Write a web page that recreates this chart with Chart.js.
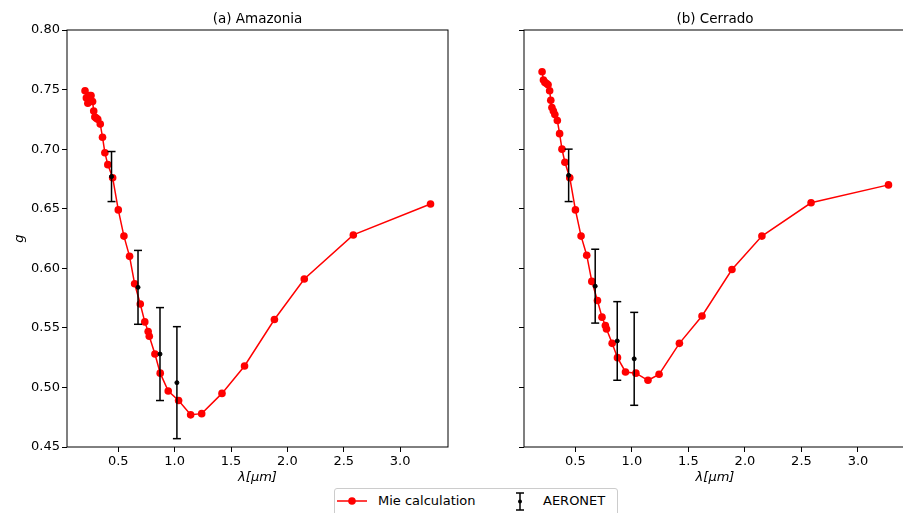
<!DOCTYPE html>
<html>
<head>
<meta charset="utf-8">
<script src="https://cdn.jsdelivr.net/npm/chart.js@4.4.1/dist/chart.umd.min.js"></script>
<style>
  html, body { margin: 0; padding: 0; background: #fff; overflow: hidden; width: 903px; height: 513px; }
  canvas { position: absolute; top: 0; }
  #left { left: 0; }
  #right { left: 460px; }
  #legend { position: absolute; left: 334px; top: 488px; width: 282px; height: 32px; border: 1px solid #ccc;
            border-radius: 3px; background: #fff; font-family: 'DejaVu Sans', sans-serif; font-size: 13px; color: #000; }
  #legend span, #legend svg { position: absolute; }
</style>
</head>
<body>
<canvas id="left" width="456" height="492"></canvas>
<canvas id="right" width="452" height="492"></canvas>
<div id="legend">
  <svg width="34" height="10" style="left:2px; top:7px"><line x1="0" y1="5" x2="30" y2="5" stroke="#ff0000" stroke-width="1.5"/><circle cx="15" cy="5" r="3.8" fill="#ff0000"/></svg>
  <span style="left:43px; top:4px">Mie calculation</span>
  <svg width="12" height="22" style="left:179px; top:2px"><line x1="6" y1="2" x2="6" y2="19" stroke="#000" stroke-width="1.5"/><line x1="2" y1="2" x2="10" y2="2" stroke="#000" stroke-width="1.5"/><line x1="2" y1="19" x2="10" y2="19" stroke="#000" stroke-width="1.5"/><circle cx="6" cy="10.5" r="2" fill="#000"/></svg>
  <span style="left:208px; top:4px">AERONET</span>
</div>
<script>
const FONT = "'DejaVu Sans', sans-serif";

// wavelengths of the Mie calculation (um)
const wavelengths = [0.205, 0.217, 0.23, 0.245, 0.258, 0.272, 0.282, 0.292, 0.305, 0.318, 0.34, 0.36, 0.381, 0.407,
  0.45, 0.50, 0.55, 0.60, 0.645, 0.695, 0.735, 0.765, 0.775, 0.825, 0.872, 0.943, 1.035, 1.142, 1.24,
  1.42, 1.62, 1.885, 2.15, 2.585, 3.27];

// asymmetry parameter g
const gAmazonia = [0.749, 0.743, 0.7385, 0.745, 0.745, 0.740, 0.732, 0.727, 0.726, 0.725, 0.721, 0.710, 0.697, 0.687,
  0.676, 0.649, 0.627, 0.610, 0.587, 0.570, 0.555, 0.547, 0.543, 0.528, 0.512, 0.497, 0.489, 0.477, 0.478,
  0.495, 0.518, 0.557, 0.591, 0.628, 0.654];
const gCerrado = [0.765, 0.758, 0.756, 0.755, 0.754, 0.749, 0.741, 0.735, 0.732, 0.729, 0.724, 0.713, 0.700, 0.689,
  0.676, 0.649, 0.627, 0.611, 0.589, 0.573, 0.559, 0.552, 0.549, 0.537, 0.525, 0.513, 0.512, 0.506, 0.511,
  0.537, 0.560, 0.599, 0.627, 0.655, 0.670];

// AERONET
const aeronetWavelengths = [0.44, 0.675, 0.87, 1.02];
const aeronetAmazonia = [0.677, 0.584, 0.528, 0.504];
const aeronetAmazoniaErr = [0.021, 0.031, 0.039, 0.047];
const aeronetCerrado = [0.678, 0.585, 0.539, 0.524];
const aeronetCerradoErr = [0.022, 0.031, 0.033, 0.039];

const frame = {
  id: 'frame',
  afterDatasetsDraw(chart) {
    const {ctx, chartArea: a} = chart;
    ctx.save();
    ctx.strokeStyle = '#000';
    ctx.lineWidth = 1;
    ctx.strokeRect(a.left, a.top, a.right - a.left, a.bottom - a.top);
    ctx.restore();
  }
};

function makeChart(id, title, g, aer, err, first) {
  const mie = wavelengths.map((w, i) => ({x: w, y: g[i]}));
  const centers = aeronetWavelengths.map((w, i) => ({x: w, y: aer[i]}));
  const bars = [];
  aeronetWavelengths.forEach((w, i) => {
    bars.push({x: w, y: aer[i] - err[i]});
    bars.push({x: w, y: aer[i] + err[i]});
    bars.push({x: w, y: null});
  });

  return new Chart(document.getElementById(id), {
    type: 'scatter',
    data: {
      datasets: [
        { label: 'AERONET', data: bars, showLine: true, spanGaps: false, borderColor: '#000', borderWidth: 1.5,
          pointStyle: 'line', pointRadius: 4, pointBorderWidth: 1.5, pointBorderColor: '#000', order: 0 },
        { label: 'AERONET', data: centers, pointRadius: 2, backgroundColor: '#000', borderColor: '#000', order: 1 },
        { label: 'Mie calculation', data: mie, showLine: true, borderColor: '#ff0000', backgroundColor: '#ff0000',
          borderWidth: 1.5, pointRadius: 3.8, pointBorderWidth: 0, order: 2 }
      ]
    },
    options: {
      responsive: false,
      animation: false,
      layout: { padding: { left: 0, right: first ? 8 : 6, top: 0, bottom: 0 } },
      plugins: {
        legend: { display: false },
        tooltip: { enabled: false }
      },
      scales: {
        x: {
          type: 'linear', min: 0.045, max: 3.425,
          border: { display: false },
          grid: { drawOnChartArea: false, tickLength: 5, color: '#000' },
          ticks: { stepSize: 0.5, includeBounds: false, color: '#000', padding: 2, maxRotation: 0,
                   font: { family: FONT, size: 13 }, callback: v => v.toFixed(1) },
          title: { display: true, text: 'λ[μm]', color: '#000', font: { family: FONT, size: 13, style: 'italic' },
                   padding: { top: 0, bottom: 7 } },
          afterFit: s => { s.height = 45; }
        },
        // top axis only carries the panel title, centred over the plot area
        top: {
          type: 'linear', axis: 'x', position: 'top', min: 0.045, max: 3.425,
          border: { display: false },
          grid: { display: false, drawTicks: false },
          ticks: { display: false },
          title: { display: true, text: title, color: '#000', font: { family: FONT, size: 13.5 },
                   padding: { top: 11, bottom: 0 } },
          afterFit: s => { s.height = 30; }
        },
        y: {
          min: 0.45, max: 0.80,
          border: { display: false },
          grid: { drawOnChartArea: false, tickLength: 5, color: '#000' },
          ticks: { display: first, stepSize: 0.05, includeBounds: false, color: '#000', padding: 2,
                   font: { family: FONT, size: 13 }, callback: v => v.toFixed(2) },
          title: { display: first, text: 'g', color: '#000', font: { family: FONT, size: 13, style: 'italic' },
                   padding: { top: 12, bottom: 0 } },
          afterFit: s => { s.width = first ? 67 : 64; }
        }
      }
    },
    plugins: [frame]
  });
}

makeChart('left', '(a) Amazonia', gAmazonia, aeronetAmazonia, aeronetAmazoniaErr, true);
makeChart('right', '(b) Cerrado', gCerrado, aeronetCerrado, aeronetCerradoErr, false);
</script>
</body>
</html>
